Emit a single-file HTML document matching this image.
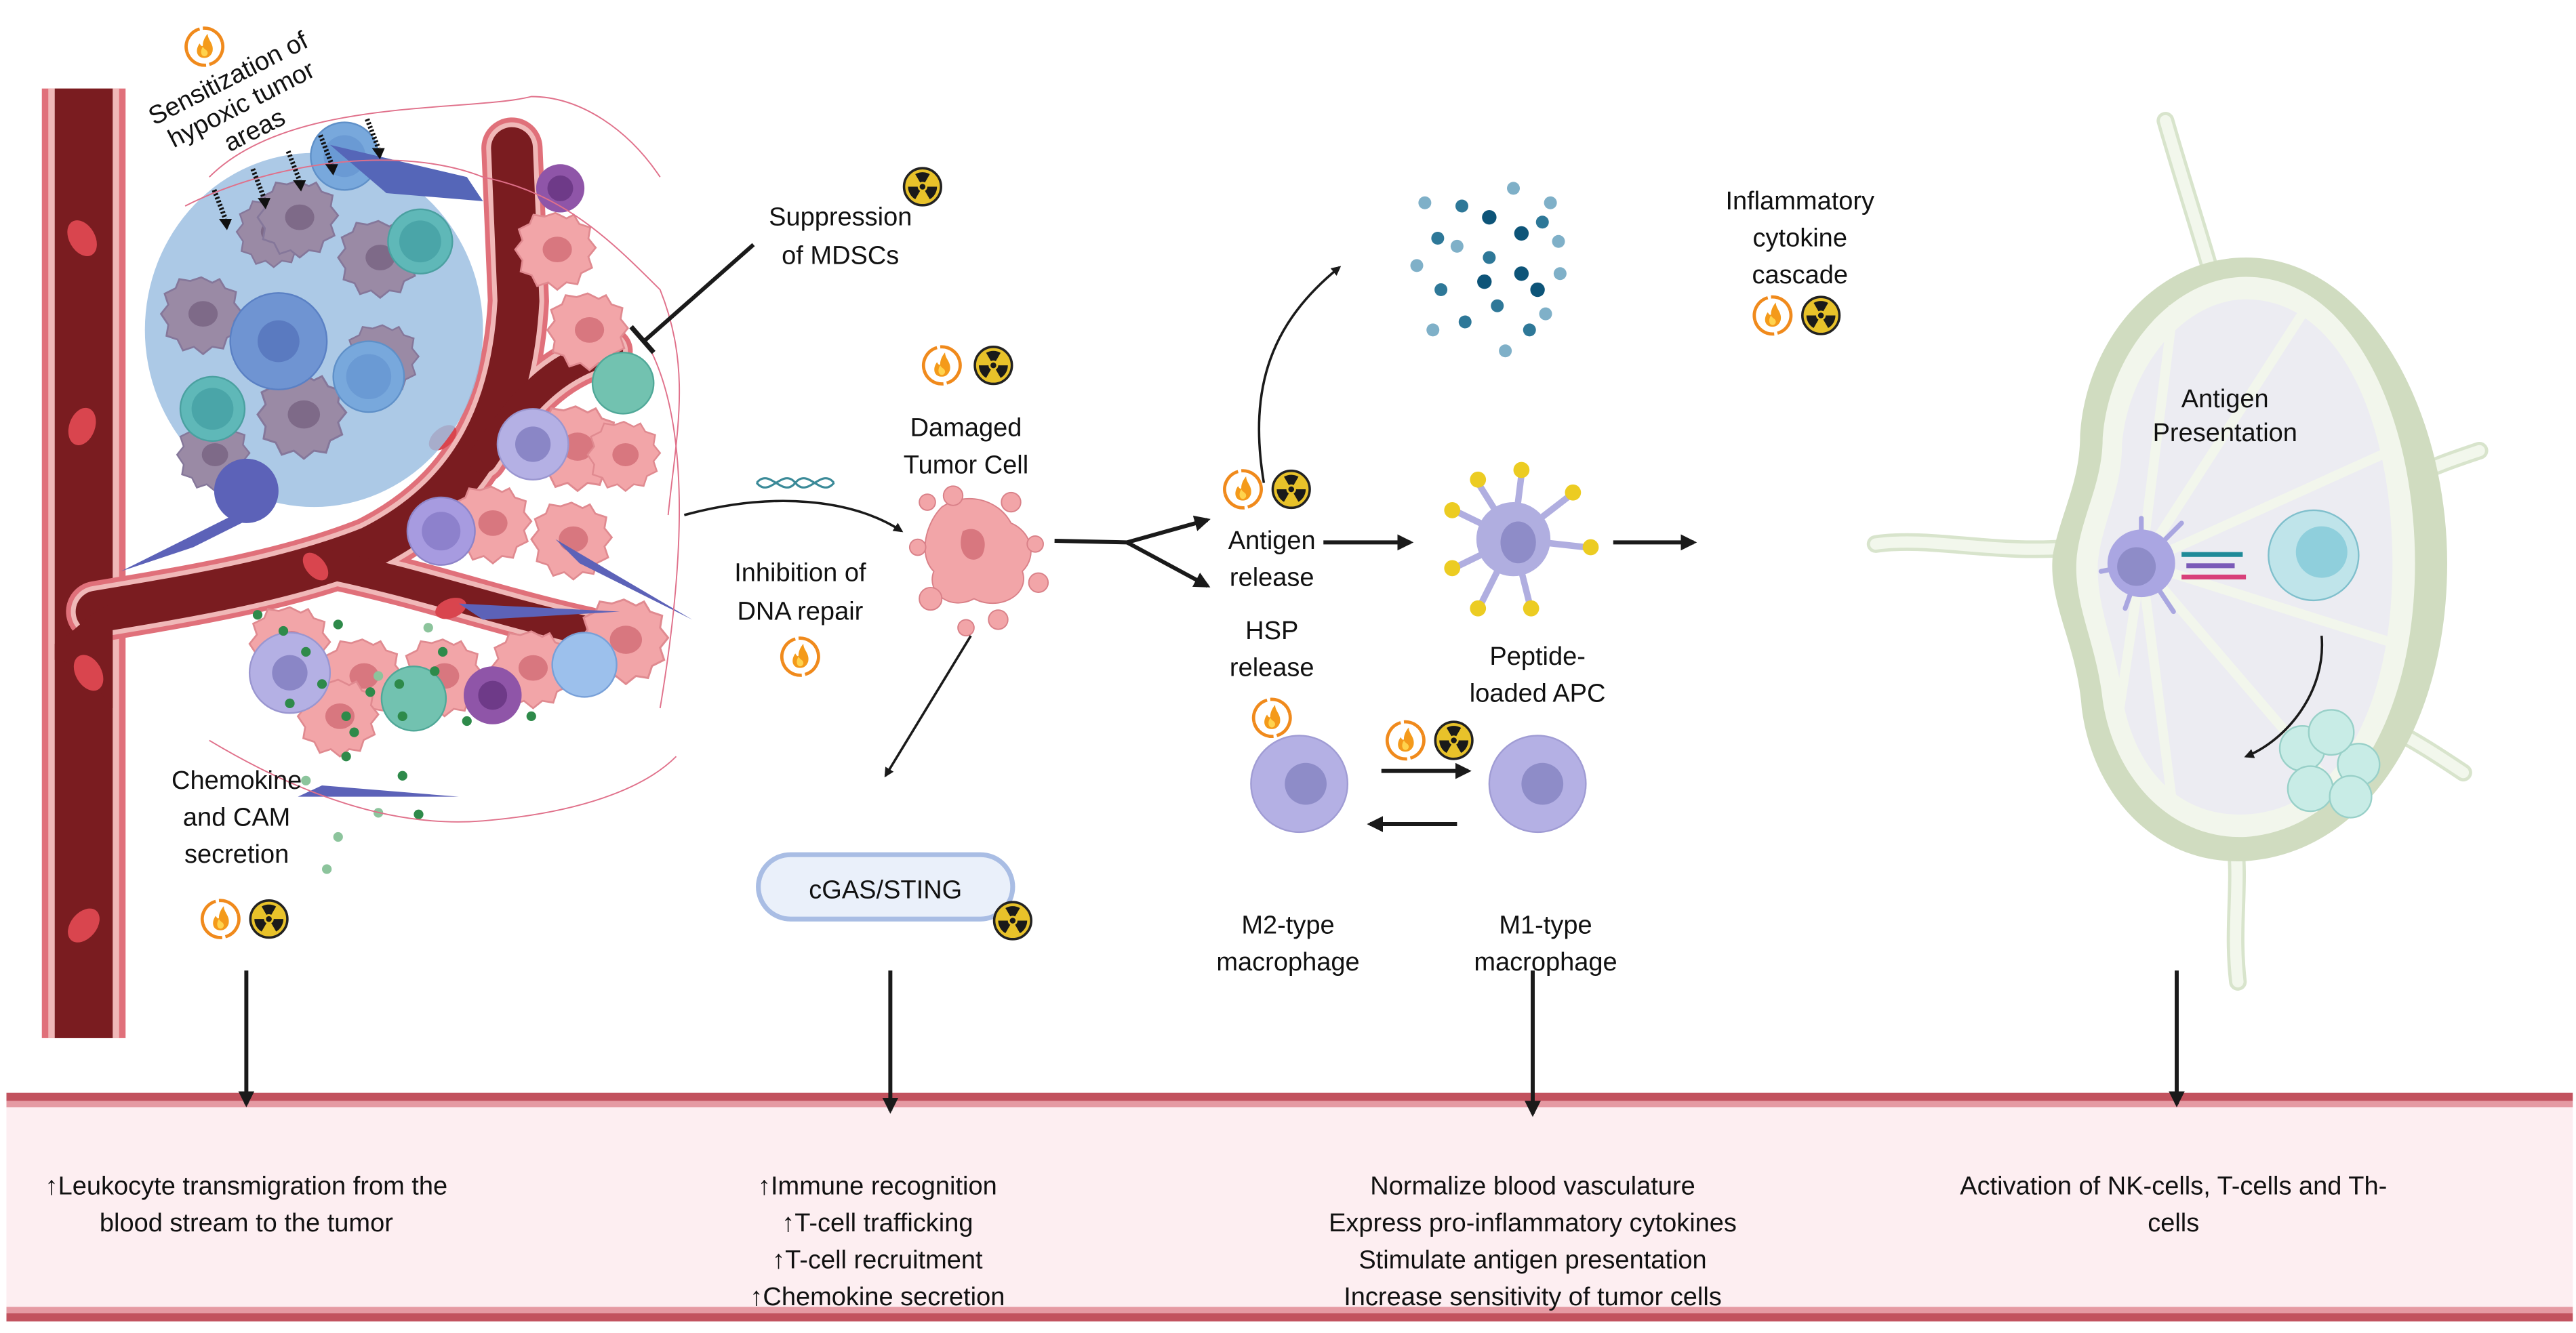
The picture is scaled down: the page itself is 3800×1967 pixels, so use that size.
<!DOCTYPE html>
<html><head><meta charset="utf-8"><style>
html,body{margin:0;padding:0;background:#fff}
svg{display:block}
text{font-family:"Liberation Sans",sans-serif;fill:#111}
</style></head><body>
<svg width="3800" height="1967" viewBox="0 0 1600 828.2" xmlns="http://www.w3.org/2000/svg">
<defs>
<symbol id="fl" viewBox="-13 -13 26 26" overflow="visible">
<path d="M-3,-11 A11.5,11.5 0 0 0 -11,3" fill="none" stroke="#f08a1c" stroke-width="2"/>
<path d="M3,11 A11.5,11.5 0 0 0 11,-3" fill="none" stroke="#f08a1c" stroke-width="2"/>
<path d="M-11,3 A11.5,11.5 0 0 0 1,11.5" fill="none" stroke="#f08a1c" stroke-width="2"/>
<path d="M11,-3 A11.5,11.5 0 0 0 -1,-11.5" fill="none" stroke="#f08a1c" stroke-width="2"/>
<path d="M0,7 C-5,7 -6,2 -3,-2 C-2,0 -1,0 -1,-1 C-1,-4 1,-7 2,-8 C2,-4 6,-2 5,3 C4,6 2,7 0,7Z" fill="#f49a1a"/>
<path d="M0,6 C-2,6 -3,3 -1,0 C0,2 2,2 2,4 C2,5 1,6 0,6Z" fill="#ffd34d"/>
</symbol>
<symbol id="rd" viewBox="-13 -13 26 26" overflow="visible">
<circle r="11.5" fill="#e8c22a" stroke="#222" stroke-width="1.5"/>
<path d="M0,0 L-4.5,-7.8 A9,9 0 0 1 4.5,-7.8Z M0,0 L9,0 A9,9 0 0 1 4.5,7.8Z M0,0 L-4.5,7.8 A9,9 0 0 1 -9,0Z" fill="#1a1a1a"/>
<circle r="3" fill="#e8c22a"/><circle r="1.8" fill="#1a1a1a"/>
</symbol>
<marker id="ah" viewBox="0 0 10 10" refX="8" refY="5" markerWidth="4" markerHeight="4" orient="auto-start-reverse">
<path d="M0,0 L10,5 L0,10Z" fill="#1a1a1a"/></marker>
<symbol id="pc" viewBox="-22 -22 44 44" overflow="visible">
<path d="M0,-20 L6,-17 L10,-19 L13,-14 L19,-12 L18,-6 L22,-1 L18,4 L20,10 L14,13 L12,19 L6,18 L1,22 L-4,18 L-10,20 L-13,14 L-19,12 L-18,6 L-22,0 L-18,-5 L-20,-11 L-14,-14 L-12,-19 L-6,-18Z" fill="#f2a5a8" stroke="#e08a90" stroke-width="1"/>
<ellipse cx="1" cy="0" rx="8" ry="7" fill="#d8777f"/>
</symbol>
<symbol id="hc" viewBox="-22 -22 44 44" overflow="visible">
<path d="M0,-20 L6,-17 L10,-19 L13,-14 L19,-12 L18,-6 L22,-1 L18,4 L20,10 L14,13 L12,19 L6,18 L1,22 L-4,18 L-10,20 L-13,14 L-19,12 L-18,6 L-22,0 L-18,-5 L-20,-11 L-14,-14 L-12,-19 L-6,-18Z" fill="#9a8aa5" stroke="#85779a" stroke-width="1"/>
<ellipse cx="1" cy="0" rx="8" ry="7" fill="#7e6a88"/>
</symbol>
</defs>

<!-- bottom band -->
<rect x="4" y="679" width="1594" height="142" fill="#fdeef1"/>
<rect x="4" y="679" width="1594" height="5" fill="#c2525e"/>
<rect x="4" y="684" width="1594" height="4" fill="#e59aa3"/>
<rect x="4" y="812" width="1594" height="4" fill="#e59aa3"/>
<rect x="4" y="816" width="1594" height="5" fill="#c2525e"/>

<!-- vessel trunk -->
<rect x="26" y="55" width="52" height="590" fill="#e0707a"/>
<rect x="30" y="55" width="44" height="590" fill="#f0b8b8"/>
<rect x="34" y="55" width="36" height="590" fill="#7a1c20"/>
<g fill="none" stroke-linecap="round">
<path d="M60,380 C120,370 180,360 230,340 C290,310 318,260 322,187 L318,92" stroke="#e0707a" stroke-width="38"/>
<path d="M300,285 C330,240 350,226 378,218" stroke="#e0707a" stroke-width="30"/>
<path d="M200,350 C260,362 310,380 365,392" stroke="#e0707a" stroke-width="30"/>
<path d="M60,380 C120,370 180,360 230,340 C290,310 318,260 322,187 L318,92" stroke="#f0b8b8" stroke-width="32"/>
<path d="M300,285 C330,240 350,226 378,218" stroke="#f0b8b8" stroke-width="24"/>
<path d="M200,350 C260,362 310,380 365,392" stroke="#f0b8b8" stroke-width="24"/>
<path d="M60,380 C120,370 180,360 230,340 C290,310 318,260 322,187 L318,92" stroke="#7a1c20" stroke-width="26"/>
<path d="M300,285 C330,240 350,226 378,218" stroke="#7a1c20" stroke-width="18"/>
<path d="M200,350 C260,362 310,380 365,392" stroke="#7a1c20" stroke-width="18"/>
</g>
<path d="M34,400 C50,390 55,380 70,375 L70,440 C55,420 45,410 34,410Z" fill="#7a1c20"/>
<g fill="#d9454e">
<ellipse cx="51" cy="148" rx="8" ry="12" transform="rotate(-30 51 148)"/>
<ellipse cx="51" cy="265" rx="8" ry="12" transform="rotate(20 51 265)"/>
<ellipse cx="55" cy="418" rx="8" ry="12" transform="rotate(-30 55 418)"/>
<ellipse cx="52" cy="575" rx="8" ry="12" transform="rotate(40 52 575)"/>
<ellipse cx="275" cy="272" rx="6" ry="10" transform="rotate(50 275 272)"/>
<ellipse cx="196" cy="352" rx="6" ry="10" transform="rotate(-40 196 352)"/>
<ellipse cx="280" cy="378" rx="6" ry="10" transform="rotate(70 280 378)"/>
</g>

<!-- hypoxic region -->
<ellipse cx="195" cy="205" rx="105" ry="110" fill="#9ec0e2" opacity="0.85"/>
<use href="#hc" x="147" y="122" width="44" height="44"/>
<use href="#hc" x="100" y="170" width="50" height="50"/>
<use href="#hc" x="160" y="110" width="50" height="50"/>
<use href="#hc" x="210" y="135" width="50" height="50"/>
<use href="#hc" x="160" y="230" width="55" height="55"/>
<use href="#hc" x="110" y="260" width="45" height="45"/>
<use href="#hc" x="215" y="200" width="45" height="45"/>
<circle cx="173" cy="212" r="30" fill="#6f94d2" stroke="#5a80c4"/><circle cx="173" cy="212" r="13" fill="#5a7ac0"/>
<circle cx="214" cy="97" r="21" fill="#78a8dc" stroke="#5f90c8"/><circle cx="214" cy="97" r="13" fill="#6a9ad4"/>
<circle cx="229" cy="234" r="22" fill="#78a8dc" stroke="#5f90c8"/><circle cx="229" cy="234" r="14" fill="#6a9ad4"/>
<circle cx="261" cy="150" r="20" fill="#5fb8b8" stroke="#4aa0a0"/><circle cx="261" cy="150" r="13" fill="#4aa5a8"/>
<circle cx="132" cy="254" r="20" fill="#5fb8b8" stroke="#4aa0a0"/><circle cx="132" cy="254" r="13" fill="#4aa5a8"/>
<circle cx="153" cy="305" r="20" fill="#5c62b8"/>
<path d="M75,355 L155,315 L170,315 L120,340Z" fill="#5c62b8"/>
<path d="M205,90 L290,110 L300,125 L240,120Z" fill="#5566b8"/>

<!-- tumor cluster right -->
<use href="#pc" x="320" y="130" width="50" height="50"/>
<use href="#pc" x="340" y="180" width="50" height="50"/>
<use href="#pc" x="330" y="250" width="55" height="55"/>
<use href="#pc" x="365" y="260" width="45" height="45"/>
<use href="#pc" x="280" y="300" width="50" height="50"/>
<use href="#pc" x="330" y="310" width="50" height="50"/>
<use href="#pc" x="360" y="370" width="55" height="55"/>
<use href="#pc" x="155" y="375" width="50" height="50"/>
<use href="#pc" x="200" y="395" width="50" height="50"/>
<use href="#pc" x="250" y="395" width="50" height="50"/>
<use href="#pc" x="305" y="390" width="50" height="50"/>
<use href="#pc" x="185" y="420" width="50" height="50"/>
<circle cx="348" cy="117" r="15" fill="#8f55a8"/><circle cx="348" cy="117" r="8" fill="#6e3a88"/>
<circle cx="331" cy="276" r="22" fill="#b4b0e4" stroke="#9a96d0"/><circle cx="331" cy="276" r="11" fill="#8a86c6"/>
<circle cx="387" cy="238" r="19" fill="#72c2b0" stroke="#50a898"/>
<circle cx="274" cy="330" r="21" fill="#a79be0" stroke="#8e84c8"/><circle cx="274" cy="330" r="12" fill="#8d81cc"/>
<circle cx="180" cy="418" r="25" fill="#b4b0e4" stroke="#9a96d0"/><circle cx="180" cy="418" r="11" fill="#8a86c6"/>
<circle cx="257" cy="434" r="20" fill="#72c2b0" stroke="#50a898"/>
<circle cx="306" cy="432" r="18" fill="#8f55a8"/><circle cx="306" cy="432" r="9" fill="#6e3a88"/>
<circle cx="363" cy="413" r="20" fill="#9cc0ec" stroke="#78a0d8"/>
<path d="M345,335 L430,385 L360,350Z" fill="#5c62b8"/>
<path d="M285,375 L385,380 L300,385Z" fill="#5c62b8"/>
<path d="M185,495 L285,495 L200,488Z" fill="#5c62b8"/>
<g fill="#2e8a4a">
<circle cx="160" cy="382" r="3"/><circle cx="176" cy="392" r="3"/><circle cx="190" cy="405" r="3"/><circle cx="210" cy="388" r="3"/><circle cx="200" cy="425" r="3"/><circle cx="180" cy="437" r="3"/><circle cx="215" cy="445" r="3"/><circle cx="230" cy="430" r="3"/><circle cx="248" cy="425" r="3"/><circle cx="270" cy="417" r="3"/><circle cx="250" cy="445" r="3"/><circle cx="275" cy="405" r="3"/><circle cx="290" cy="448" r="3"/><circle cx="330" cy="445" r="3"/><circle cx="215" cy="470" r="3"/><circle cx="250" cy="482" r="3"/><circle cx="260" cy="506" r="3"/><circle cx="220" cy="455" r="3"/>
</g>
<g fill="#8cc49c"><circle cx="190" cy="485" r="3"/><circle cx="235" cy="505" r="3"/><circle cx="210" cy="520" r="3"/><circle cx="203" cy="540" r="3"/><circle cx="235" cy="420" r="3"/><circle cx="266" cy="390" r="3"/></g>
<g fill="none" stroke="#e0708a" stroke-width="0.8">
<path d="M115,128 C170,100 250,90 300,110 C350,120 380,150 410,180 C430,230 420,270 415,320"/>
<path d="M130,110 C180,60 290,70 330,60 C360,60 390,80 410,110"/>
<path d="M130,460 C180,490 240,515 300,510 C360,505 400,490 420,470"/>
<path d="M400,210 C430,260 425,350 410,440"/>
</g>

<!-- dashed arrows hypoxic -->
<g stroke="#111" stroke-width="3" stroke-dasharray="1.2 1.2">
<line x1="133" y1="118" x2="140" y2="136"/><line x1="157" y1="105" x2="164" y2="123"/><line x1="179" y1="94" x2="186" y2="112"/><line x1="199" y1="84" x2="206" y2="102"/><line x1="228" y1="74" x2="235" y2="92"/>
</g>
<g fill="#111"><path d="M136,136 L144,136 L141,143Z"/><path d="M160,123 L168,123 L165,130Z"/><path d="M182,112 L190,112 L187,119Z"/><path d="M202,102 L210,102 L207,109Z"/><path d="M231,92 L239,92 L236,99Z"/></g>
<use href="#fl" x="114" y="16" width="26" height="26"/>
<g transform="rotate(-27 150 65)" font-size="16">
<text x="150" y="52" text-anchor="middle">Sensitization of</text>
<text x="150" y="70" text-anchor="middle">hypoxic tumor</text>
<text x="150" y="88" text-anchor="middle">areas</text>
</g>

<!-- left labels -->
<g font-size="16" text-anchor="middle">
<text x="147" y="490">Chemokine</text><text x="147" y="513">and CAM</text><text x="147" y="536">secretion</text>
</g>
<use href="#fl" x="124" y="558" width="26" height="26"/><use href="#rd" x="154" y="558" width="26" height="26"/>

<!-- suppression -->
<line x1="468" y1="152" x2="400" y2="212" stroke="#1a1a1a" stroke-width="2.5"/>
<line x1="392" y1="203" x2="406" y2="219" stroke="#1a1a1a" stroke-width="3"/>
<g font-size="16" text-anchor="middle"><text x="522" y="140">Suppression</text><text x="522" y="164">of MDSCs</text></g>
<use href="#rd" x="560" y="103" width="26" height="26"/>

<!-- damaged tumor cell -->
<use href="#fl" x="572" y="214" width="26" height="26"/><use href="#rd" x="604" y="214" width="26" height="26"/>
<g font-size="16" text-anchor="middle"><text x="600" y="271">Damaged</text><text x="600" y="294">Tumor Cell</text></g>
<g fill="#f2a5a8" stroke="#d98088" stroke-width="0.8">
<path d="M585,315 C600,305 620,310 628,325 C640,330 645,345 635,355 C640,370 620,380 605,372 C590,380 575,368 580,355 C570,345 575,325 585,315Z"/>
<circle cx="576" cy="312" r="5"/><circle cx="592" cy="308" r="6"/><circle cx="628" cy="312" r="6"/><circle cx="643" cy="338" r="5"/><circle cx="570" cy="340" r="5"/><circle cx="578" cy="372" r="7"/><circle cx="620" cy="385" r="6"/><circle cx="645" cy="362" r="6"/><circle cx="600" cy="390" r="5"/>
</g>
<path d="M598,330 C608,325 615,335 610,345 C604,352 593,345 598,330Z" fill="#d8777f"/>
<!-- DNA -->
<g stroke="#3b8a98" stroke-width="1.3" fill="none"><path d="M470,300 C478,290 486,310 494,300 C502,290 510,310 518,300"/><path d="M470,300 C478,310 486,290 494,300 C502,310 510,290 518,300"/></g>
<path d="M425,320 C480,305 530,310 560,330" fill="none" stroke="#1a1a1a" stroke-width="1.5" marker-end="url(#ah)"/>
<g font-size="16" text-anchor="middle"><text x="497" y="361">Inhibition of</text><text x="497" y="385">DNA repair</text></g>
<use href="#fl" x="484" y="395" width="26" height="26"/>

<!-- branching arrows -->
<g stroke="#1a1a1a" stroke-width="2.5" fill="none">
<path d="M655,336 L700,337 L750,323" marker-end="url(#ah)"/>
<path d="M700,337 L750,364" marker-end="url(#ah)"/>
<path d="M822,337 L876,337" marker-end="url(#ah)"/>
<path d="M1002,337 L1052,337" marker-end="url(#ah)"/>
<path d="M858,479 L912,479" marker-end="url(#ah)"/>
<path d="M905,512 L851,512" marker-end="url(#ah)"/>
</g>
<path d="M785,300 C775,240 790,200 832,166" fill="none" stroke="#1a1a1a" stroke-width="1.5" marker-end="url(#ah)"/>
<path d="M603,395 L550,482" fill="none" stroke="#1a1a1a" stroke-width="1.5" marker-end="url(#ah)"/>
<use href="#fl" x="759" y="291" width="26" height="26"/><use href="#rd" x="789" y="291" width="26" height="26"/>
<g font-size="16" text-anchor="middle"><text x="790" y="341">Antigen</text><text x="790" y="364">release</text><text x="790" y="397">HSP</text><text x="790" y="420">release</text></g>
<use href="#fl" x="777" y="433" width="26" height="26"/>

<!-- APC -->
<g stroke="#b0aee0" stroke-width="4" stroke-linecap="round">
<line x1="940" y1="335" x2="918" y2="300"/><line x1="940" y1="335" x2="945" y2="295"/><line x1="940" y1="335" x2="975" y2="308"/><line x1="940" y1="335" x2="905" y2="318"/><line x1="940" y1="335" x2="985" y2="340"/><line x1="940" y1="335" x2="905" y2="352"/><line x1="940" y1="335" x2="920" y2="375"/><line x1="940" y1="335" x2="950" y2="375"/>
</g>
<circle cx="940" cy="335" r="23" fill="#b0aee0"/><ellipse cx="943" cy="337" rx="11" ry="13" fill="#8e8cc8"/>
<g fill="#eccc22"><circle cx="918" cy="298" r="5"/><circle cx="945" cy="292" r="5"/><circle cx="977" cy="306" r="5"/><circle cx="902" cy="317" r="5"/><circle cx="988" cy="340" r="5"/><circle cx="902" cy="353" r="5"/><circle cx="918" cy="378" r="5"/><circle cx="951" cy="378" r="5"/></g>
<g font-size="16" text-anchor="middle"><text x="955" y="413">Peptide-</text><text x="955" y="436">loaded APC</text></g>

<!-- cytokines -->
<g fill="#7fb0c8"><circle cx="885" cy="126" r="4"/><circle cx="940" cy="117" r="4"/><circle cx="963" cy="126" r="4"/><circle cx="880" cy="165" r="4"/><circle cx="968" cy="150" r="4"/><circle cx="890" cy="205" r="4"/><circle cx="960" cy="195" r="4"/><circle cx="935" cy="218" r="4"/><circle cx="905" cy="153" r="4"/><circle cx="969" cy="170" r="4"/></g>
<g fill="#2e7898"><circle cx="908" cy="128" r="4"/><circle cx="893" cy="148" r="4"/><circle cx="925" cy="160" r="4"/><circle cx="895" cy="180" r="4"/><circle cx="930" cy="190" r="4"/><circle cx="950" cy="205" r="4"/><circle cx="910" cy="200" r="4"/><circle cx="958" cy="138" r="4"/></g>
<g fill="#0d5478"><circle cx="925" cy="135" r="4.5"/><circle cx="945" cy="145" r="4.5"/><circle cx="922" cy="175" r="4.5"/><circle cx="945" cy="170" r="4.5"/><circle cx="955" cy="180" r="4.5"/></g>
<g font-size="16" text-anchor="middle"><text x="1118" y="130">Inflammatory</text><text x="1118" y="153">cytokine</text><text x="1118" y="176">cascade</text></g>
<use href="#fl" x="1088" y="183" width="26" height="26"/><use href="#rd" x="1118" y="183" width="26" height="26"/>

<!-- macrophages -->
<use href="#fl" x="860" y="447" width="26" height="26"/><use href="#rd" x="890" y="447" width="26" height="26"/>
<circle cx="807" cy="487" r="30" fill="#b4b0e4" stroke="#a09cd4"/><circle cx="811" cy="487" r="13" fill="#8e8cc8"/>
<circle cx="955" cy="487" r="30" fill="#b4b0e4" stroke="#a09cd4"/><circle cx="958" cy="487" r="13" fill="#8e8cc8"/>
<g font-size="16" text-anchor="middle"><text x="800" y="580">M2-type</text><text x="800" y="603">macrophage</text><text x="960" y="580">M1-type</text><text x="960" y="603">macrophage</text></g>

<!-- cGAS -->
<rect x="471" y="531" width="158" height="40" rx="20" fill="#eaf0fa" stroke="#a9bde4" stroke-width="3"/>
<text x="550" y="558" font-size="16" text-anchor="middle">cGAS/STING</text>
<use href="#rd" x="616" y="559" width="26" height="26"/>

<!-- lymph node -->
<g fill="none" stroke="#d8e4cc" stroke-width="11" stroke-linecap="round">
<path d="M1165,338 C1200,333 1240,345 1290,340"/><path d="M1345,75 C1355,110 1365,140 1375,175"/><path d="M1490,300 C1510,290 1525,285 1540,280"/><path d="M1480,450 C1500,460 1515,470 1530,480"/><path d="M1388,520 C1392,550 1386,575 1390,610"/>
</g>
<g fill="none" stroke="#f2f7ec" stroke-width="7" stroke-linecap="round">
<path d="M1165,338 C1200,333 1240,345 1290,340"/><path d="M1345,75 C1355,110 1365,140 1375,175"/><path d="M1490,300 C1510,290 1525,285 1540,280"/><path d="M1480,450 C1500,460 1515,470 1530,480"/><path d="M1388,520 C1392,550 1386,575 1390,610"/>
</g>
<path d="M1395,160 C1470,160 1520,255 1520,350 C1520,450 1470,530 1395,535 C1340,538 1300,495 1293,440 C1290,400 1272,375 1275,345 C1280,318 1292,300 1292,270 C1296,210 1340,160 1395,160Z" fill="#d0dcc0"/>
<path d="M1395,172 C1462,172 1500,260 1500,350 C1500,440 1462,515 1395,520 C1348,522 1313,483 1306,435 C1302,398 1287,375 1290,345 C1293,320 1306,300 1306,272 C1310,218 1350,172 1395,172Z" fill="#f2f6ec"/>
<path d="M1395,186 C1455,186 1486,265 1486,350 C1486,435 1455,503 1395,506 C1352,508 1325,476 1318,432 C1314,400 1302,378 1303,350 C1305,326 1318,305 1318,276 C1322,228 1357,186 1395,186Z" fill="#ececf2"/>
<g stroke="#f2f6ec" stroke-width="6"><line x1="1330" y1="350" x2="1350" y2="190"/><line x1="1330" y1="350" x2="1430" y2="195"/><line x1="1330" y1="350" x2="1485" y2="280"/><line x1="1330" y1="350" x2="1488" y2="400"/><line x1="1330" y1="350" x2="1450" y2="490"/><line x1="1330" y1="350" x2="1350" y2="505"/><line x1="1330" y1="350" x2="1315" y2="450"/></g>
<g font-size="16" text-anchor="middle"><text x="1382" y="253">Antigen</text><text x="1382" y="274">Presentation</text></g>
<g stroke="#a9a6e0" stroke-width="3" stroke-linecap="round"><line x1="1330" y1="350" x2="1330" y2="322"/><line x1="1330" y1="350" x2="1305" y2="355"/><line x1="1330" y1="350" x2="1355" y2="325"/><line x1="1330" y1="350" x2="1320" y2="378"/><line x1="1330" y1="350" x2="1350" y2="380"/></g>
<circle cx="1330" cy="350" r="21" fill="#aaa6e2"/><circle cx="1327" cy="352" r="12" fill="#8e8cc8"/>
<rect x="1355" y="343" width="38" height="3" fill="#1f8a98"/><rect x="1358" y="350" width="30" height="3" fill="#7a5ab8"/><rect x="1355" y="357" width="40" height="3" fill="#d8407a"/>
<circle cx="1437" cy="345" r="28" fill="#bfe4ea" stroke="#7fbfcc"/><circle cx="1442" cy="343" r="16" fill="#8fcfdc"/>
<path d="M1442,395 C1445,430 1420,460 1395,470" fill="none" stroke="#1a1a1a" stroke-width="1.5" marker-end="url(#ah)"/>
<g fill="#c8ece6" stroke="#98d0c8"><circle cx="1430" cy="465" r="14"/><circle cx="1465" cy="475" r="13"/><circle cx="1435" cy="490" r="14"/><circle cx="1460" cy="495" r="13"/><circle cx="1448" cy="455" r="14"/></g>

<!-- down arrows -->
<g stroke="#1a1a1a" stroke-width="2.5">
<line x1="153" y1="603" x2="153" y2="686" marker-end="url(#ah)"/>
<line x1="553" y1="603" x2="553" y2="690" marker-end="url(#ah)"/>
<line x1="952" y1="603" x2="952" y2="692" marker-end="url(#ah)"/>
<line x1="1352" y1="603" x2="1352" y2="686" marker-end="url(#ah)"/>
</g>

<!-- bottom text -->
<g font-size="16" text-anchor="middle">
<text x="153" y="742">↑Leukocyte transmigration from the</text><text x="153" y="765">blood stream to the tumor</text>
<text x="545" y="742">↑Immune recognition</text><text x="545" y="765">↑T-cell trafficking</text><text x="545" y="788">↑T-cell recruitment</text><text x="545" y="811">↑Chemokine secretion</text>
<text x="952" y="742">Normalize blood vasculature</text><text x="952" y="765">Express pro-inflammatory cytokines</text><text x="952" y="788">Stimulate antigen presentation</text><text x="952" y="811">Increase sensitivity of tumor cells</text>
<text x="1350" y="742">Activation of NK-cells, T-cells and Th-</text><text x="1350" y="765">cells</text>
</g>
</svg>
</body></html>
